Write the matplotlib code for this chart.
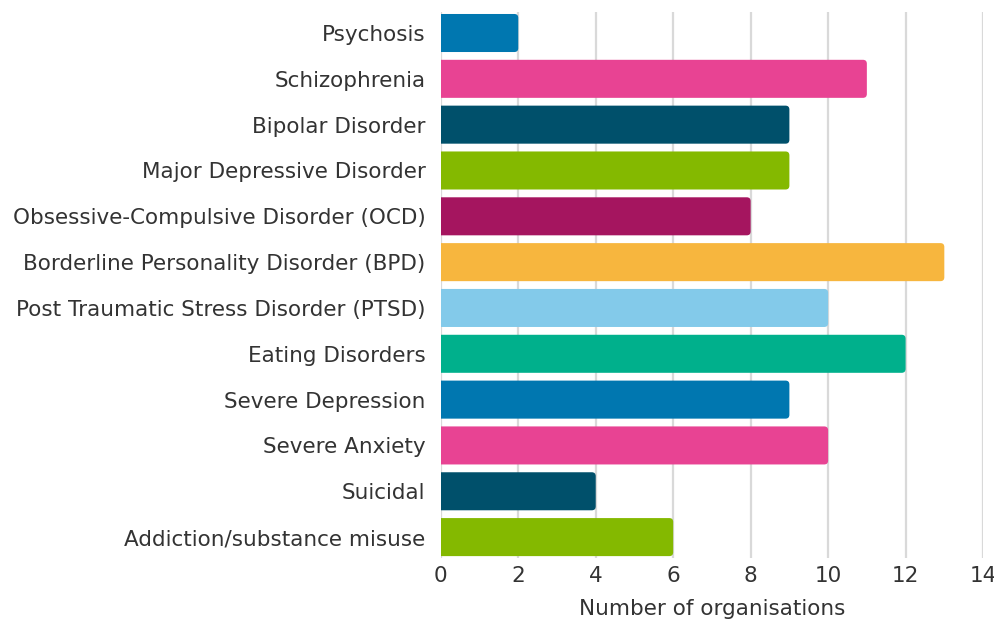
import matplotlib
matplotlib.use('Agg')
import matplotlib.pyplot as plt
from matplotlib.patches import FancyBboxPatch

plt.rcParams['font.family'] = ['DejaVu Sans']

categories = ['Psychosis', 'Schizophrenia', 'Bipolar Disorder', 'Major Depressive Disorder',
              'Obsessive-Compulsive Disorder (OCD)', 'Borderline Personality Disorder (BPD)',
              'Post Traumatic Stress Disorder (PTSD)', 'Eating Disorders', 'Severe Depression',
              'Severe Anxiety', 'Suicidal', 'Addiction/substance misuse']
counts = [2, 11, 9, 9, 8, 13, 10, 12, 9, 10, 4, 6]
colours = ['#0077b0', '#e84393', '#00506b', '#84b900', '#a5155f', '#f7b63e',
           '#83caea', '#00b08c', '#0077b0', '#e84393', '#00506b', '#84b900']
xticks = [0, 2, 4, 6, 8, 10, 12, 14]

text_col = '#333333'
fs = 15.5

fig = plt.figure(figsize=(9.95, 6.19), dpi=100)
ax = fig.add_axes([0.443, 0.099, 0.545, 0.881])

ypos = list(range(len(categories)))
bars = ax.barh(ypos, counts, height=0.83, color=colours, zorder=3)

# swap each bar for one with rounded right-hand corners; the left end starts
# below zero so the axes clip it square
aspect = (0.545 * 995 / 14.0) / (0.881 * 619 / 12.0)
for bar, c in zip(bars, colours):
    x, y = bar.get_x(), bar.get_y()
    w, h = bar.get_width(), bar.get_height()
    bar.set_visible(False)
    ax.add_patch(FancyBboxPatch((x - 0.3, y), w + 0.3, h,
                                boxstyle='round,pad=0,rounding_size=0.1',
                                mutation_aspect=aspect, facecolor=c,
                                edgecolor='none', zorder=3))

ax.set_xlim(0, 14)
ax.set_ylim(11.45, -0.45)
ax.set_xticks(xticks)
ax.set_yticks(ypos)
ax.set_yticklabels(categories)
ax.grid(axis='x', color='#d9d9d9', linewidth=1.6, zorder=0)
for s in ax.spines.values():
    s.set_visible(False)
ax.tick_params(axis='both', length=0, labelsize=fs, labelcolor=text_col)
ax.tick_params(axis='y', pad=11)
ax.tick_params(axis='x', pad=6)
ax.set_xlabel('Number of organisations', fontsize=fs, color=text_col, labelpad=9)

fig.savefig('out.png', dpi=100)
